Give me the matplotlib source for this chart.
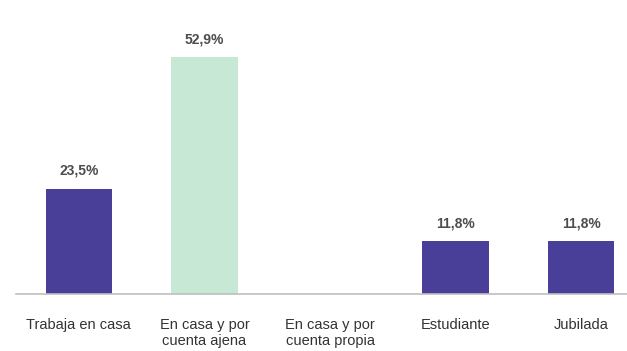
import matplotlib.pyplot as plt

categories = ["Trabaja en casa", "En casa y por\ncuenta ajena", "En casa y por\ncuenta propia",
              "Estudiante", "Jubilada"]
values = [23.5, 52.9, 0.0, 11.8, 11.8]
labels = ["23,5%", "52,9%", "", "11,8%", "11,8%"]
colors = ["#4a3f98", "#c8e8d6", "#4a3f98", "#4a3f98", "#4a3f98"]

plt.rcParams['font.family'] = ['Liberation Sans', 'DejaVu Sans']

fig = plt.figure(figsize=(6.27, 3.51), dpi=100)
# axes run a little past the right edge of the figure
ax = fig.add_axes([16 / 627, 57 / 351, 628 / 627, 269 / 351])

x = range(len(categories))
bars = ax.bar(x, values, width=0.53, color=colors)
for b, v, lab in zip(bars, values, labels):
    if lab:
        ax.text(b.get_x() + b.get_width() / 2, v + 2.4, lab, ha="center", va="bottom",
                fontsize=10, fontweight="bold", color="#4d4d4d")

ax.set_xlim(-0.5, len(categories) - 0.5)
ax.set_ylim(0, 60)
ax.set_xticks(list(x))
ax.set_xticklabels(categories, fontsize=10.5, color="#333333", linespacing=1.25, va="top")
ax.tick_params(axis="x", length=0, pad=17)
ax.set_yticks([])
for s in ["top", "right", "left"]:
    ax.spines[s].set_visible(False)
ax.spines["bottom"].set_color("#bfbfbf")
ax.spines["bottom"].set_linewidth(1.2)

fig.savefig("out.png", dpi=100)
